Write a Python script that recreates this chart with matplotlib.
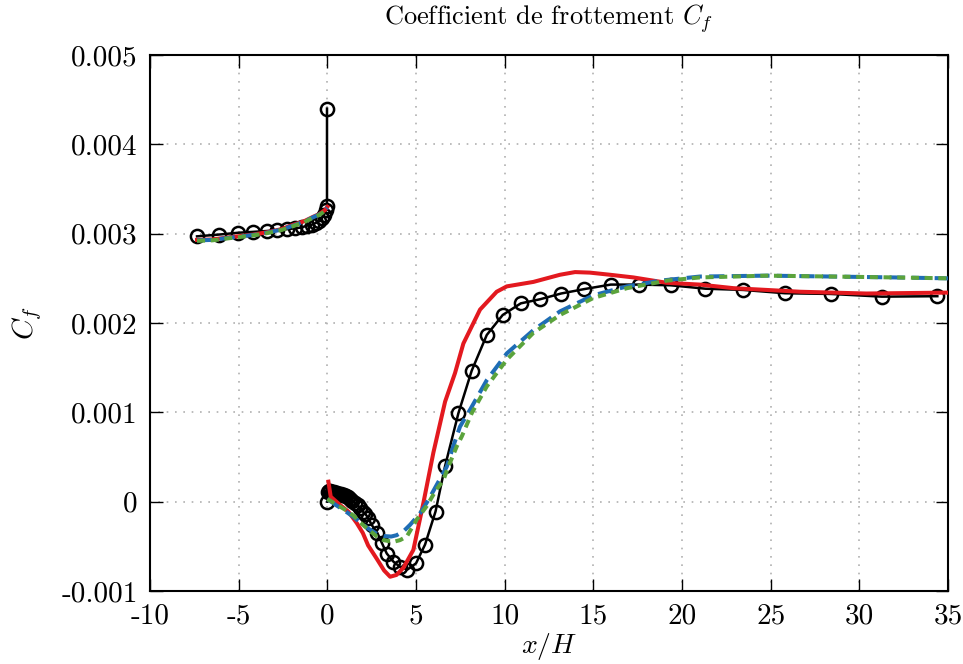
import numpy as np
import matplotlib
matplotlib.use("Agg")
import matplotlib.pyplot as plt

plt.rcParams["font.family"] = "serif"
plt.rcParams["font.serif"] = ["cmr10", "DejaVu Serif"]
plt.rcParams["mathtext.fontset"] = "cm"
plt.rcParams["axes.unicode_minus"] = False

# reference (black circles), upstream and downstream of the step
ref_up_x = [-7.35, -6.1, -5.05, -4.2, -3.4, -2.85, -2.3, -1.8, -1.45, -1.15,
            -0.88, -0.65, -0.47, -0.32, -0.18, -0.08, -0.02, -0.02]
ref_up_y = [0.00297, 0.00299, 0.00301, 0.00302, 0.00303, 0.00304, 0.00305,
            0.00306, 0.00307, 0.00309, 0.00310, 0.00312, 0.00314, 0.00317,
            0.00321, 0.00327, 0.00331, 0.00440]
ref_dn_x = [0.0, 0.03, 0.08, 0.15, 0.25, 0.35, 0.45, 0.55, 0.65, 0.75, 0.85,
            0.95, 1.05, 1.15, 1.27, 1.4, 1.55, 1.7, 1.85, 2.0, 2.15, 2.3, 2.5,
            2.82, 3.07, 3.35, 3.72, 4.1, 4.51, 5.0, 5.51, 6.1, 6.64, 7.39,
            8.14, 8.99, 9.89, 10.91, 12.0, 13.18, 14.5, 15.98, 17.58, 19.37,
            21.32, 23.46, 25.81, 28.41, 31.28, 34.4]
ref_dn_y = [0.0, 0.00011, 0.00012, 0.000115, 0.00011, 0.000105, 0.0001,
            0.000095, 0.00009, 0.000085, 0.00008, 0.00007, 0.00006, 0.00005,
            0.00003, 0.00001, -0.00001, -0.00004, -0.00007, -0.00011,
            -0.00014, -0.00018, -0.00026, -0.00035, -0.00046, -0.00058,
            -0.00067, -0.00073, -0.00076, -0.00069, -0.00048, -0.00011,
            0.0004, 0.00099, 0.001466, 0.001866, 0.00209, 0.00222, 0.002266,
            0.00233, 0.00238, 0.00243, 0.00243, 0.002422, 0.002384, 0.00237,
            0.002333, 0.002325, 0.002295, 0.0023]

# models, upstream part (the three curves nearly coincide)
mod_up_x = [-7.35, -6.5, -5.5, -5.05, -4.2, -3.42, -2.6, -1.92, -1.3, -0.79,
            -0.45, -0.13, 0.0]
red_up_y = [0.00293, 0.002935, 0.00296, 0.00297, 0.00299, 0.003015, 0.00305,
            0.00310, 0.00314, 0.00319, 0.00322, 0.003265, 0.00330]
blue_up_y = [0.002925, 0.00293, 0.002955, 0.002965, 0.002985, 0.00301,
             0.003045, 0.00309, 0.003135, 0.003185, 0.003215, 0.00326,
             0.00329]
green_up_y = [0.00292, 0.002925, 0.00295, 0.00296, 0.00298, 0.003005,
              0.00304, 0.003085, 0.00313, 0.00318, 0.00321, 0.003255,
              0.003285]

# models, downstream part
red_dn_x = [0.06, 0.19, 0.72, 1.18, 1.66, 2.0, 2.3, 2.79, 3.2, 3.54, 3.9,
            4.29, 4.85, 5.41, 5.98, 6.64, 7.2, 7.67, 8.61, 9.55, 10.12,
            11.62, 13.12, 13.97, 14.8, 15.94, 17.26, 19.14, 21.0, 22.9,
            26.66, 30.4, 34.9, 35.0]
red_dn_y = [0.000224, 0.000056, -0.000037, -0.00011, -0.00024, -0.00035,
            -0.00049, -0.00064, -0.00077, -0.00084, -0.00082, -0.00074,
            -0.00054, -0.00002, 0.00055, 0.00112, 0.00144, 0.00177, 0.00215,
            0.00235, 0.00241, 0.00246, 0.00254, 0.00257, 0.002564, 0.00254,
            0.00251, 0.00245, 0.00243, 0.00239, 0.00235, 0.00233, 0.00234,
            0.00234]
blue_dn_x = [0.0, 0.5, 0.9, 1.4, 1.84, 2.3, 2.79, 3.2, 3.6, 3.91, 4.3, 4.66,
             5.23, 5.7, 6.2, 6.73, 7.1, 7.48, 8.05, 8.99, 10.12, 11.62,
             13.12, 15.0, 16.9, 18.76, 21.0, 24.8, 28.5, 32.0, 35.0]
blue_dn_y = [0.00003, -0.00004, -0.00009, -0.00016, -0.00023, -0.0003,
             -0.00036, -0.000385, -0.00039, -0.000375, -0.00033, -0.00026,
             -0.00013, 0.00002, 0.0002, 0.00039, 0.00062, 0.00084, 0.00103,
             0.00136, 0.00166, 0.00192, 0.00213, 0.00231, 0.00241, 0.002474,
             0.00252, 0.00253, 0.00252, 0.00251, 0.0025]
green_dn_x = [0.0, 0.5, 1.09, 1.5, 1.84, 2.3, 2.79, 3.16, 3.72, 4.1, 4.48,
              5.04, 5.6, 6.1, 6.54, 6.82, 7.3, 7.58, 8.14, 8.99, 10.12,
              11.62, 13.12, 15.0, 16.9, 19.14, 21.0, 24.8, 28.5, 32.0, 35.0]
green_dn_y = [0.00003, -0.00003, -0.0001, -0.00016, -0.00023, -0.00031,
              -0.00039, -0.00043, -0.00045, -0.00043, -0.00039, -0.0002,
              -0.00005, 0.00012, 0.00024, 0.00039, 0.00062, 0.00073, 0.00099,
              0.00129, 0.00159, 0.00189, 0.00209, 0.00228, 0.00239, 0.002474,
              0.00251, 0.00253, 0.00252, 0.00251, 0.0025]

xticks = [-10, -5, 0, 5, 10, 15, 20, 25, 30, 35]
yticks = [-0.001, 0, 0.001, 0.002, 0.003, 0.004, 0.005]
ytick_labels = ["-0.001", "0", "0.001", "0.002", "0.003", "0.004", "0.005"]

red = "#e3191f"
blue = "#1f6db5"
green = "#5ba33c"

fig = plt.figure(figsize=(9.63, 6.64), dpi=100)
ax = fig.add_axes([0.1558, 0.1099, 0.8286, 0.8073])

for xs, ys in [(ref_up_x, ref_up_y), (ref_dn_x, ref_dn_y)]:
    ax.plot(xs, ys, color="black", lw=1.8, marker="o", ms=9.5,
            mfc="none", mec="black", mew=1.8, zorder=3)
ax.plot(mod_up_x, red_up_y, color=red, lw=2.9, zorder=4)
ax.plot(red_dn_x, red_dn_y, color=red, lw=2.9, zorder=4)
ax.plot(mod_up_x, blue_up_y, color=blue, lw=2.9, dashes=(3.8, 1.8), zorder=5)
ax.plot(blue_dn_x, blue_dn_y, color=blue, lw=2.9, dashes=(3.8, 1.8), zorder=5)
ax.plot(mod_up_x, green_up_y, color=green, lw=2.9, dashes=(2.0, 1.4),
        zorder=6)
ax.plot(green_dn_x, green_dn_y, color=green, lw=2.9, dashes=(2.0, 1.4),
        zorder=6)

ax.set_xlim(-10, 35)
ax.set_ylim(-0.001, 0.005)
ax.set_xticks(xticks)
ax.set_xticklabels([str(t) for t in xticks])
ax.set_yticks(yticks)
ax.set_yticklabels(ytick_labels)
ax.tick_params(direction="in", length=9, width=1, labelsize=21,
               top=True, right=True, pad=9)
ax.grid(True, color="#b0b0b0", linestyle=(0, (1, 4)), lw=1.2)
for s in ax.spines.values():
    s.set_linewidth(1.5)

ax.set_title(r"Coefficient de frottement $C_f$", fontsize=19, pad=22)
ax.set_xlabel(r"$x/H$", fontsize=20, labelpad=1)
ax.set_ylabel(r"$C_f$", fontsize=21, labelpad=12)

fig.savefig("out.png", dpi=100)
